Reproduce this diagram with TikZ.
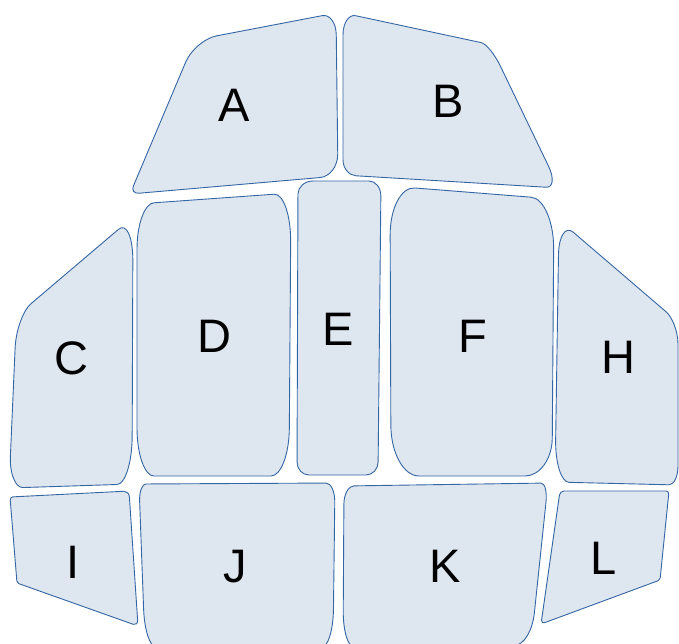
\documentclass[tikz,border=0pt]{standalone}
\usepackage{fontspec}
\setmainfont{Liberation Sans}
\usetikzlibrary{calc}
\definecolor{partfill}{HTML}{DEE6EF}
\definecolor{partline}{HTML}{3465A4}
\tikzset{
  part/.style={fill=partfill,draw=partline,line width=0.9pt,line join=round},
  lab/.style={anchor=base,inner sep=0pt,font=\fontsize{47}{50}\selectfont},
  cs/.style n args={5}{insert path={($(#2)!#4!(#1)$) .. controls ($(#2)!0.45*#4!(#1)$) and ($(#2)!0.45*#5!(#3)$) .. ($(#2)!#5!(#3)$)}},
  cn/.style n args={5}{insert path={-- ($(#2)!#4!(#1)$) .. controls ($(#2)!0.45*#4!(#1)$) and ($(#2)!0.45*#5!(#3)$) .. ($(#2)!#5!(#3)$)}},
}
\begin{document}
\begin{tikzpicture}[x=1pt,y=-1pt]
\clip (0,0) rectangle (679,643);
% A
\coordinate (a1) at (195,40);  \coordinate (a2) at (336,13);
\coordinate (a3) at (338,176); \coordinate (a4) at (130,194);
\draw[part] [cs={a4}{a1}{a2}{24pt}{22pt}] [cn={a1}{a2}{a3}{14pt}{22pt}]
  [cn={a2}{a3}{a4}{22pt}{18pt}] [cn={a3}{a4}{a1}{9pt}{9pt}] -- cycle;
% B
\coordinate (b1) at (343,13);  \coordinate (b2) at (490,44.5);
\coordinate (b3) at (559,188); \coordinate (b4) at (343,175);
\draw[part] [cs={b4}{b1}{b2}{22pt}{13pt}] [cn={b1}{b2}{b3}{9pt}{24pt}]
  [cn={b2}{b3}{b4}{24pt}{13pt}] [cn={b3}{b4}{b1}{13pt}{15pt}] -- cycle;
% C
\coordinate (c1) at (16.5,316); \coordinate (c2) at (133,217);
\coordinate (c3) at (132,484);  \coordinate (c4) at (9,488);
\draw[part] [cs={c4}{c1}{c2}{32pt}{19pt}] [cn={c1}{c2}{c3}{19pt}{44pt}]
  [cn={c2}{c3}{c4}{48pt}{15pt}] [cn={c3}{c4}{c1}{14pt}{32pt}] -- cycle;
% D
\coordinate (d1) at (137,204); \coordinate (d2) at (291,193);
\coordinate (d3) at (289,476); \coordinate (d4) at (137,476);
\draw[part] [cs={d4}{d1}{d2}{45pt}{17pt}] [cn={d1}{d2}{d3}{17pt}{49pt}]
  [cn={d2}{d3}{d4}{48pt}{18pt}] [cn={d3}{d4}{d1}{17pt}{48pt}] -- cycle;
% E
\coordinate (e1) at (298,181); \coordinate (e2) at (381,181);
\coordinate (e3) at (378,475); \coordinate (e4) at (297,475);
\draw[part] [cs={e4}{e1}{e2}{13pt}{15pt}] [cn={e1}{e2}{e3}{12pt}{15pt}]
  [cn={e2}{e3}{e4}{13pt}{12pt}] [cn={e3}{e4}{e1}{12pt}{13pt}] -- cycle;
% F
\coordinate (f1) at (390,186); \coordinate (f2) at (554,199);
\coordinate (f3) at (552,476); \coordinate (f4) at (391,476);
\draw[part] [cs={f4}{f1}{f2}{49pt}{25pt}] [cn={f1}{f2}{f3}{23pt}{50pt}]
  [cn={f2}{f3}{f4}{38pt}{27pt}] [cn={f3}{f4}{f1}{28pt}{51pt}] -- cycle;
% H
\coordinate (h1) at (559,220); \coordinate (h2) at (678,322);
\coordinate (h3) at (678,485); \coordinate (h4) at (555,482);
\draw[part] [cs={h4}{h1}{h2}{35pt}{19pt}] [cn={h1}{h2}{h3}{16pt}{22pt}]
  [cn={h2}{h3}{h4}{19pt}{9pt}] [cn={h3}{h4}{h1}{14pt}{42pt}] -- cycle;
% I
\coordinate (i1) at (10,497);  \coordinate (i2) at (129,491);
\coordinate (i3) at (138,626); \coordinate (i4) at (17,583);
\draw[part] [cs={i4}{i1}{i2}{3pt}{3pt}] [cn={i1}{i2}{i3}{5pt}{6pt}]
  [cn={i2}{i3}{i4}{6pt}{5pt}] [cn={i3}{i4}{i1}{2pt}{2pt}] -- cycle;
% J
\coordinate (j1) at (139,484); \coordinate (j2) at (335,483);
\coordinate (j3) at (333,647); \coordinate (j4) at (145,647);
\draw[part] [cs={j4}{j1}{j2}{17pt}{7pt}] [cn={j1}{j2}{j3}{9pt}{19pt}]
  [cn={j2}{j3}{j4}{38pt}{11pt}] [cn={j3}{j4}{j1}{11pt}{38pt}] -- cycle;
% K
\coordinate (k1) at (344,486); \coordinate (k2) at (548,483);
\coordinate (k3) at (531,645); \coordinate (k4) at (343,647);
\draw[part] [cs={k4}{k1}{k2}{18pt}{10pt}] [cn={k1}{k2}{k3}{7pt}{19pt}]
  [cn={k2}{k3}{k4}{32pt}{16pt}] [cn={k3}{k4}{k1}{11pt}{36pt}] -- cycle;
% L
\coordinate (l1) at (560,491); \coordinate (l2) at (669,491);
\coordinate (l3) at (660,580); \coordinate (l4) at (541,624);
\draw[part] [cs={l4}{l1}{l2}{4pt}{4pt}] [cn={l1}{l2}{l3}{3pt}{3pt}]
  [cn={l2}{l3}{l4}{2pt}{2pt}] [cn={l3}{l4}{l1}{4pt}{4pt}] -- cycle;
% labels
\node[lab] (lA) at (234,121) {A};
\node[lab] (lB) at (448,117) {B};
\node[lab] (lC) at (71,374) {C};
\node[lab] (lD) at (214,352) {D};
\node[lab] (lE) at (338,345) {E};
\node[lab] (lF) at (473,352) {F};
\node[lab] (lH) at (618,373) {H};
\node[lab] (lI) at (73,578) {I};
\node[lab] (lJ) at (235,582) {J};
\node[lab] (lK) at (445,582) {K};
\node[lab] (lL) at (604,574) {L};
\end{tikzpicture}
\end{document}
